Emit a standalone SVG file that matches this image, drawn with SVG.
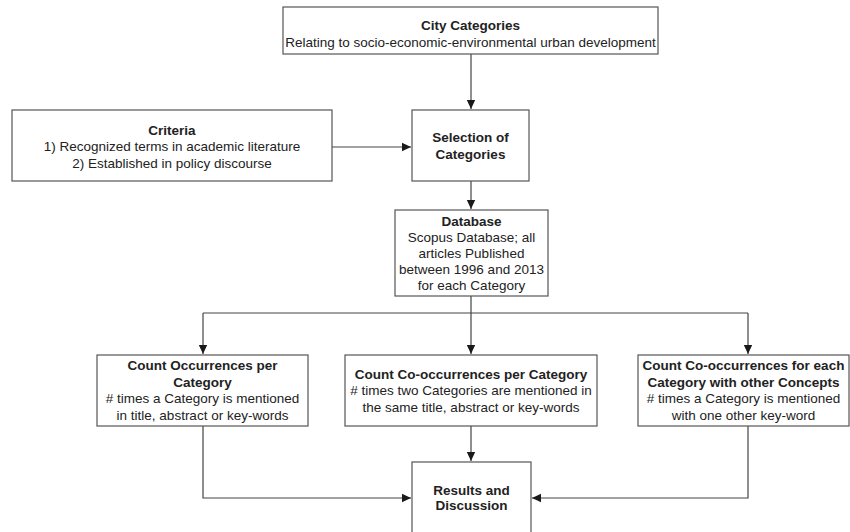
<svg xmlns="http://www.w3.org/2000/svg" width="850" height="532" viewBox="0 0 850 532">
<defs>
<marker id="ah" markerWidth="10" markerHeight="10" refX="9" refY="5" orient="auto" markerUnits="userSpaceOnUse">
<path d="M0,0.8 L9,5 L0,9.2 Z" fill="#1a1a1a"/>
</marker>
<style>
.box{fill:#fff;stroke:#555;stroke-width:1.2}
.t{font-family:"Liberation Sans",Arial,sans-serif;font-size:13.5px;fill:#222;text-anchor:middle}
.b{font-weight:bold}
.c{fill:none;stroke:#444;stroke-width:1.2}
</style>
</defs>
<rect width="850" height="532" fill="#fff"/>
<g id="connectors">
<path class="c" d="M471,54 V109" marker-end="url(#ah)"/>
<path class="c" d="M332,147 H411" marker-end="url(#ah)"/>
<path class="c" d="M471,181 V209" marker-end="url(#ah)"/>
<path class="c" d="M471,296 V313"/>
<path class="c" d="M203,313 H748"/>
<path class="c" d="M203,313 V354" marker-end="url(#ah)"/>
<path class="c" d="M471,313 V354" marker-end="url(#ah)"/>
<path class="c" d="M748,313 V354" marker-end="url(#ah)"/>
<path class="c" d="M203,426 V498 H411" marker-end="url(#ah)"/>
<path class="c" d="M471,426 V461" marker-end="url(#ah)"/>
<path class="c" d="M748,426 V498 H532" marker-end="url(#ah)"/>
</g>
<g id="city">
<rect class="box" x="283" y="7" width="375" height="47"/>
<text class="t b" x="470.5" y="30">City Categories</text>
<text class="t" x="470.5" y="46.5">Relating to socio-economic-environmental urban development</text>
</g>
<g id="criteria">
<rect class="box" x="12" y="110" width="320" height="71"/>
<text class="t b" x="172" y="134.5">Criteria</text>
<text class="t" x="172" y="151">1) Recognized terms in academic literature</text>
<text class="t" x="172" y="167.5">2) Established in policy discourse</text>
</g>
<g id="selection">
<rect class="box" x="412" y="110" width="117" height="71"/>
<text class="t b" x="470.5" y="142">Selection of</text>
<text class="t b" x="470.5" y="159">Categories</text>
</g>
<g id="database">
<rect class="box" x="395" y="210" width="153" height="86"/>
<text class="t b" x="471.5" y="225.5">Database</text>
<text class="t" x="471.5" y="241.5">Scopus Database; all</text>
<text class="t" x="471.5" y="257.5">articles Published</text>
<text class="t" x="471.5" y="273.5">between 1996 and 2013</text>
<text class="t" x="471.5" y="289.5">for each Category</text>
</g>
<g id="occurrences">
<rect class="box" x="97" y="355" width="211" height="71"/>
<text class="t b" x="202.5" y="370">Count Occurrences per</text>
<text class="t b" x="202.5" y="386.5">Category</text>
<text class="t" x="202.5" y="403"># times a Category is mentioned</text>
<text class="t" x="202.5" y="419.5">in title, abstract or key-words</text>
</g>
<g id="cooccurrences">
<rect class="box" x="345" y="355" width="252" height="71"/>
<text class="t b" x="471" y="378.5">Count Co-occurrences per Category</text>
<text class="t" x="471" y="395"># times two Categories are mentioned in</text>
<text class="t" x="471" y="411.5">the same title, abstract or key-words</text>
</g>
<g id="concepts">
<rect class="box" x="638" y="355" width="211" height="71"/>
<text class="t b" x="743.5" y="370">Count Co-occurrences for each</text>
<text class="t b" x="743.5" y="386.5">Category with other Concepts</text>
<text class="t" x="743.5" y="403"># times a Category is mentioned</text>
<text class="t" x="743.5" y="419.5">with one other key-word</text>
</g>
<g id="results">
<rect class="box" x="412" y="462" width="119" height="80"/>
<text class="t b" x="471.5" y="494.5">Results and</text>
<text class="t b" x="471.5" y="509.5">Discussion</text>
</g>
</svg>
